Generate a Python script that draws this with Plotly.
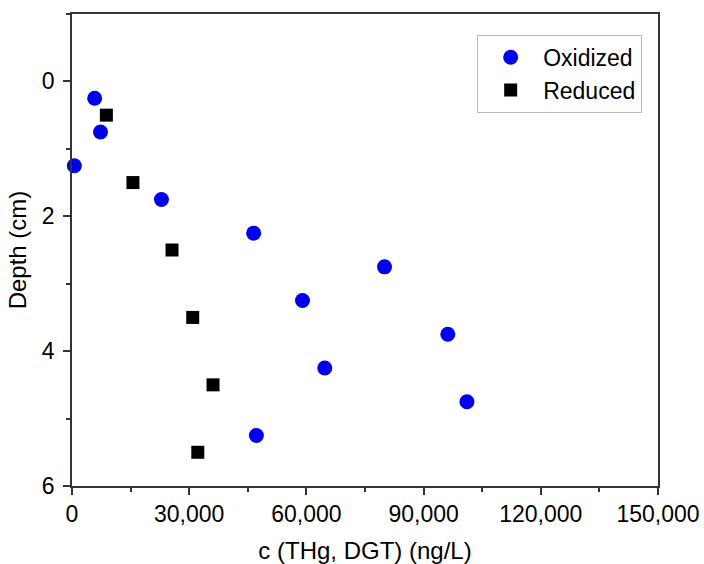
import plotly.graph_objects as go

ox_conc = [5800, 7300, 600, 22900, 46500, 80000, 59000, 96200, 64700, 101100, 47200]
ox_depth = [0.25, 0.75, 1.25, 1.75, 2.25, 2.75, 3.25, 3.75, 4.25, 4.75, 5.25]
red_conc = [8800, 15600, 25600, 30900, 36100, 32200]
red_depth = [0.5, 1.5, 2.5, 3.5, 4.5, 5.5]
x_ticks = [0, 30000, 60000, 90000, 120000, 150000]
y_ticks = [0, 2, 4, 6]

font = "Arial, Liberation Sans, sans-serif"
fig = go.Figure()
fig.add_trace(go.Scatter(x=ox_conc, y=ox_depth, mode="markers", name="Oxidized",
                         marker=dict(symbol="circle", size=15, color="#0000ee"), cliponaxis=False))
fig.add_trace(go.Scatter(x=red_conc, y=red_depth, mode="markers", name="Reduced",
                         marker=dict(symbol="square", size=13, color="black"), cliponaxis=False))

axis_common = dict(showline=True, linecolor="#333333", linewidth=1.6, mirror=True,
                   ticks="outside", ticklen=7, tickwidth=1.5, tickcolor="#333333",
                   showgrid=False, zeroline=False, automargin=False,
                   tickfont=dict(family=font, size=23, color="black"),
                   minor=dict(ticks="outside", ticklen=4, tickwidth=1.5, tickcolor="#333333", showgrid=False))

fig.update_xaxes(range=[0, 150000], tickvals=x_ticks, tickformat=",",
                 title=dict(text="c (THg, DGT) (ng/L)", font=dict(family=font, size=24, color="black"), standoff=26),
                 minor_dtick=15000, **axis_common)
fig.update_yaxes(range=[6, -1], tickvals=y_ticks, ticklabelstandoff=4,
                 title=dict(text="Depth (cm)", font=dict(family=font, size=24, color="black"), standoff=8),
                 minor_dtick=1, minor_tick0=0, **axis_common)

fig.update_layout(width=704, height=564, margin=dict(l=72, r=46, t=14, b=78),
                  paper_bgcolor="white", plot_bgcolor="white",
                  font=dict(family=font, size=22, color="black"),
                  legend=dict(x=0.973, y=0.956, xanchor="right", yanchor="top",
                              bordercolor="#bbbbbb", borderwidth=1, bgcolor="white",
                              font=dict(family=font, size=23), tracegroupgap=0, itemwidth=55))
fig.write_html("out.html")
